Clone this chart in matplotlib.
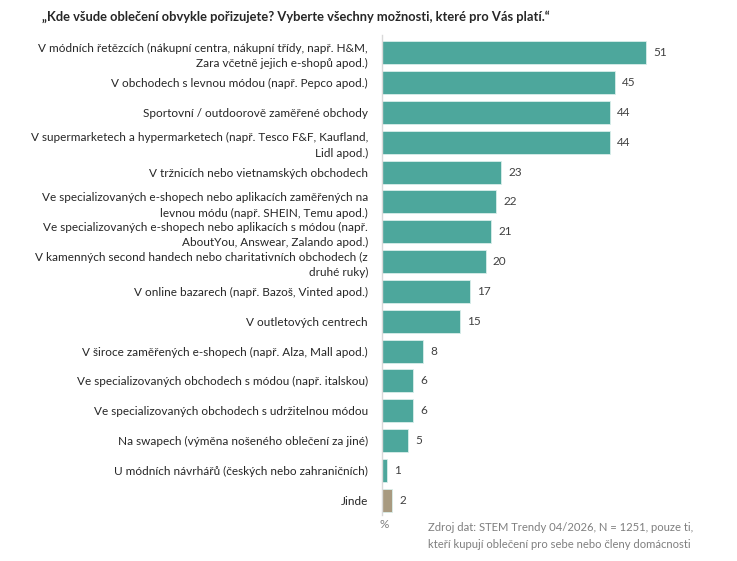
import matplotlib.pyplot as plt

plt.rcParams['font.family'] = ['Lato', 'DejaVu Sans']

categories = [
    "V módních řetězcích (nákupní centra, nákupní třídy, např. H&M,\nZara včetně jejich e-shopů apod.)",
    "V obchodech s levnou módou (např. Pepco apod.)",
    "Sportovní / outdoorově zaměřené obchody",
    "V supermarketech a hypermarketech (např. Tesco F&F, Kaufland,\nLidl apod.)",
    "V tržnicích nebo vietnamských obchodech",
    "Ve specializovaných e-shopech nebo aplikacích zaměřených na\nlevnou módu (např. SHEIN, Temu apod.)",
    "Ve specializovaných e-shopech nebo aplikacích s módou (např.\nAboutYou, Answear, Zalando apod.)",
    "V kamenných second handech nebo charitativních obchodech (z\ndruhé ruky)",
    "V online bazarech (např. Bazoš, Vinted apod.)",
    "V outletových centrech",
    "V široce zaměřených e-shopech (např. Alza, Mall apod.)",
    "Ve specializovaných obchodech s módou (např. italskou)",
    "Ve specializovaných obchodech s udržitelnou módou",
    "Na swapech (výměna nošeného oblečení za jiné)",
    "U módních návrhářů (českých nebo zahraničních)",
    "Jinde",
]
values = [51, 45, 44, 44, 23, 22, 21, 20, 17, 15, 8, 6, 6, 5, 1, 2]

teal = "#4DA79C"
other = "#A89A80"
colors = [teal] * (len(values) - 1) + [other]

W, H = 737, 561
fig = plt.figure(figsize=(W / 100, H / 100), dpi=100)
ax = fig.add_axes([382 / W, 1 - 515 / H, 318 / W, 480 / H])

ypos = list(range(len(values)))
ax.barh(ypos, values, height=0.77, color=colors, edgecolor="#d9eeea", linewidth=0.6)
ax.set_xlim(0, 318 / 5.18)
ax.set_ylim(15.5, -0.6)

for y, v in zip(ypos, values):
    ax.text(v + 1.4, y, str(v), va="center", ha="left", fontsize=8.5, color="#404040")

ax.set_yticks(ypos)
ax.set_yticklabels(categories, fontsize=8.5, color="#262626", linespacing=1.5)
ax.tick_params(axis="y", length=0, pad=10)
ax.set_xticks([])
for side in ["top", "right", "bottom"]:
    ax.spines[side].set_visible(False)
ax.spines["left"].set_color("#d9d9d9")
ax.spines["left"].set_linewidth(1)

fig.text(42 / W, 1 - 17 / H, "„Kde všude oblečení obvykle pořizujete? Vyberte všechny možnosti, které pro Vás platí.“",
         fontsize=9.25, fontweight="bold", color="#262626", va="center", ha="left")
fig.text(384 / W, 1 - 525 / H, "%", fontsize=8.5, color="#7f7f7f", va="center", ha="center")
fig.text(428 / W, 1 - 536 / H, "Zdroj dat: STEM Trendy 04/2026, N = 1251, pouze ti,\nkteří kupují oblečení pro sebe nebo členy domácnosti",
         fontsize=8.1, color="#7f7f7f", va="center", ha="left", linespacing=1.6)

fig.savefig("out.png", dpi=100)
